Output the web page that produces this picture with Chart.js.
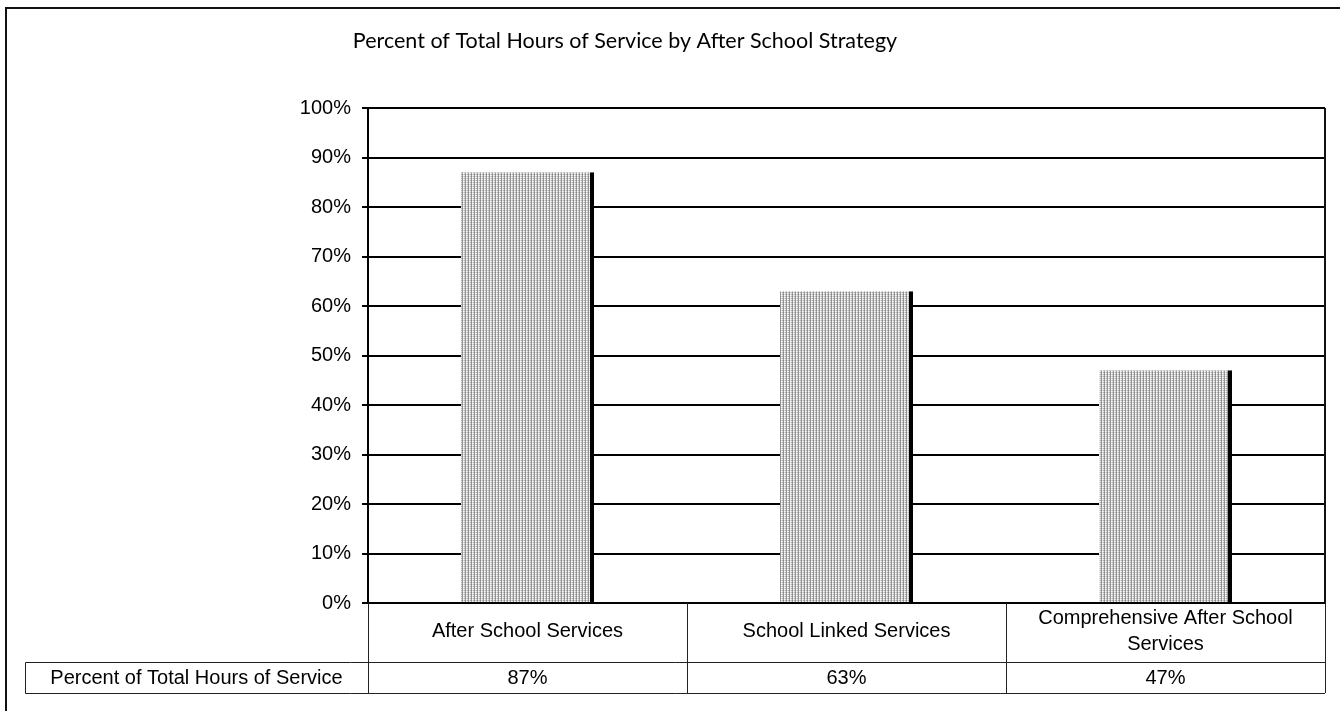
<!DOCTYPE html>
<html>
<head>
<meta charset="utf-8">
<script src="https://cdn.jsdelivr.net/npm/chart.js@4"></script>
<style>
  html, body { margin: 0; padding: 0; background: #ffffff; }
  #wrap { position: relative; width: 1340px; height: 711px; }
</style>
</head>
<body>
<div id="wrap"><canvas id="chart" width="1340" height="711"></canvas></div>
<script>
// Chart content
const chartTitle = 'Percent of Total Hours of Service by After School Strategy';
const categories = ['After School Services', 'School Linked Services', 'Comprehensive After School Services'];
const seriesName = 'Percent of Total Hours of Service';
const seriesValues = [87, 63, 47];
const yTicks = [0, 10, 20, 30, 40, 50, 60, 70, 80, 90, 100];

const FONT = '"Liberation Sans", Arial, sans-serif';

// Stippled grey fill for the bars
function makeStipple() {
  const c = document.createElement('canvas');
  c.width = 3; c.height = 2;
  const g = c.getContext('2d');
  const cells = [
    ['#8c8c8c', '#9a9a9a'],
    ['#d6d6d6', '#fafafa'],
    ['#b0b0b0', '#e4e4e4']
  ];
  cells.forEach((col, x) => col.forEach((clr, y) => { g.fillStyle = clr; g.fillRect(x, y, 1, 1); }));
  return g.createPattern(c, 'repeat');
}

// Frame, title, plot border and the data table under the plot
const decorations = {
  id: 'decorations',
  afterDraw(chart) {
    const ctx = chart.ctx;
    const area = chart.chartArea;
    const xs = chart.scales.x;
    const n = categories.length;
    const half = (xs.getPixelForValue(1) - xs.getPixelForValue(0)) / 2;
    const rowTop = area.bottom;
    const rowMid = rowTop + 59;
    const rowBot = rowMid + 31;
    const labelLeft = 25;

    ctx.save();
    // outer frame
    ctx.strokeStyle = '#111';
    ctx.lineWidth = 2;
    ctx.beginPath();
    ctx.moveTo(6, 711); ctx.lineTo(6, 8); ctx.lineTo(1340, 8);
    ctx.stroke();

    // title
    ctx.fillStyle = '#000';
    ctx.font = '21.5px Lato, "Open Sans", sans-serif';
    ctx.textAlign = 'center';
    ctx.textBaseline = 'alphabetic';
    ctx.fillText(chartTitle, 625, 48);

    // plot area right edge
    ctx.lineWidth = 2;
    ctx.beginPath();
    ctx.moveTo(area.right, area.top); ctx.lineTo(area.right, area.bottom);
    ctx.stroke();

    // table grid
    ctx.strokeStyle = '#222';
    ctx.lineWidth = 1;
    ctx.beginPath();
    for (let i = 0; i <= n; i++) {
      const x = Math.round(i < n ? xs.getPixelForValue(i) - half : xs.getPixelForValue(n - 1) + half) + 0.5;
      ctx.moveTo(x, rowTop); ctx.lineTo(x, rowBot);
    }
    ctx.moveTo(labelLeft + 0.5, rowMid + 0.5); ctx.lineTo(area.right, rowMid + 0.5);
    ctx.moveTo(labelLeft + 0.5, rowBot + 0.5); ctx.lineTo(area.right, rowBot + 0.5);
    ctx.moveTo(labelLeft + 0.5, rowMid + 0.5); ctx.lineTo(labelLeft + 0.5, rowBot + 0.5);
    ctx.stroke();

    // table text
    ctx.fillStyle = '#000';
    ctx.font = '20px ' + FONT;
    ctx.textAlign = 'center';
    ctx.textBaseline = 'middle';
    const cellW = half * 2 - 16;
    categories.forEach((cat, i) => {
      const cx = xs.getPixelForValue(i);
      // wrap the category name to the cell width
      const words = cat.split(' ');
      const lines = [];
      let cur = '';
      words.forEach(w => {
        const t = cur ? cur + ' ' + w : w;
        if (ctx.measureText(t).width > cellW && cur) { lines.push(cur); cur = w; } else { cur = t; }
      });
      lines.push(cur);
      const lh = 26;
      const cy = (rowTop + rowMid) / 2 - 1;
      lines.forEach((ln, k) => ctx.fillText(ln, cx, cy + (k - (lines.length - 1) / 2) * lh));
      ctx.fillText(seriesValues[i] + '%', cx, (rowMid + rowBot) / 2 + 1);
    });
    ctx.fillText(seriesName, (labelLeft + area.left) / 2, (rowMid + rowBot) / 2 + 1);
    ctx.restore();
  }
};

new Chart(document.getElementById('chart'), {
  type: 'bar',
  data: {
    labels: categories,
    datasets: [{
      label: seriesName,
      data: seriesValues,
      backgroundColor: makeStipple(),
      borderColor: '#000000',
      borderWidth: { top: 0, left: 0, bottom: 0, right: 4 },
      borderSkipped: false,
      categoryPercentage: 1,
      barPercentage: 0.417
    }]
  },
  options: {
    responsive: false,
    animation: false,
    devicePixelRatio: 1,
    layout: { padding: { top: 108, right: 15, bottom: 108, left: 0 } },
    plugins: {
      legend: { display: false },
      title: { display: false },
      tooltip: { enabled: false }
    },
    scales: {
      x: {
        display: false,
        offset: true
      },
      y: {
        min: 0,
        max: 100,
        afterBuildTicks(scale) { scale.ticks = yTicks.map(v => ({ value: v })); },
        afterFit(scale) { scale.width = 368; },
        ticks: {
          padding: 11,
          color: '#000',
          font: { family: FONT, size: 20 },
          callback: v => v + '%'
        },
        grid: {
          color: '#000',
          lineWidth: 2,
          tickLength: 6,
          drawOnChartArea: true
        },
        border: { display: true, color: '#000', width: 2 }
      }
    }
  },
  plugins: [decorations]
});
</script>
</body>
</html>
